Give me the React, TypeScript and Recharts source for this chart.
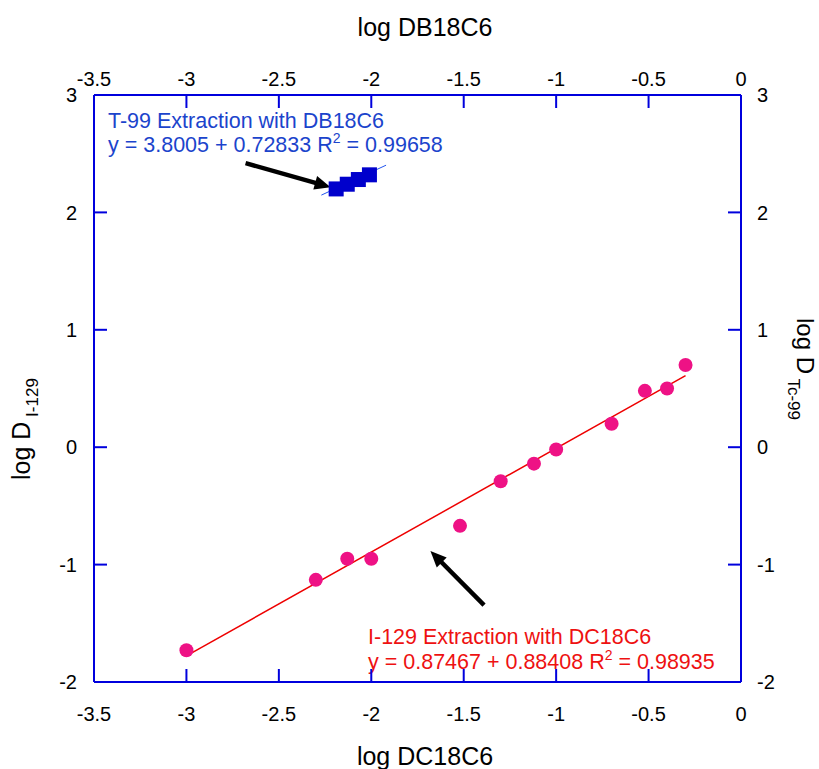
import React from 'react';
import { ScatterChart, Scatter, XAxis, YAxis, ReferenceLine, Customized } from 'recharts';

// I-129 with DC18C6 (bottom / left axes)
const dcLogConc = [-3.0, -2.3, -2.13, -2.0, -1.52, -1.3, -1.12, -1.0, -0.7, -0.52, -0.4, -0.3];
const logDI129 = [-1.73, -1.13, -0.95, -0.95, -0.67, -0.29, -0.14, -0.02, 0.2, 0.48, 0.5, 0.7];

// Tc-99 with DB18C6 (top / right axes)
const dbLogConc = [-2.19, -2.13, -2.07, -2.01];
const logDTc99 = [2.2, 2.24, 2.28, 2.32];

const xTicks = [-3.5, -3, -2.5, -2, -1.5, -1, -0.5, 0];
const yTicks = [-2, -1, 0, 1, 2, 3];

const i129Fit = { a: 0.87467, b: 0.88408, from: -3, to: -0.3 };
const tc99Fit = { a: 3.8005, b: 0.72833, from: -2.27, to: -1.92 };

// arrow annotations, in data units (tail, tip)
const arrowTc = [{ x: -2.68, y: 2.42 }, { x: -2.22, y: 2.215 }];
const arrowI = [{ x: -1.39, y: -1.345 }, { x: -1.68, y: -0.885 }];

const i129Data = dcLogConc.map((x, i) => ({ x, y: logDI129[i] }));
const tc99Data = dbLogConc.map((x, i) => ({ x, y: logDTc99[i] }));

const fitSegment = (f: { a: number; b: number; from: number; to: number }) => [
  { x: f.from, y: f.a + f.b * f.from },
  { x: f.to, y: f.a + f.b * f.to },
];

const FONT = '"Liberation Sans", Arial, sans-serif';
const AXIS_BLUE = '#0000dd';
const PINK = '#ee1285';
const TEXT_BLUE = '#1b44cc';
const TEXT_RED = '#ee1111';

const axisLine = { stroke: AXIS_BLUE, strokeWidth: 2 };
const tickStyle = { fill: '#000', fontSize: 20, fontFamily: FONT };

const Arrow = (props: any) => {
  const { x1, y1, x2, y2 } = props;
  const dx = x2 - x1;
  const dy = y2 - y1;
  const len = Math.sqrt(dx * dx + dy * dy) || 1;
  const ux = dx / len;
  const uy = dy / len;
  const head = 16;
  const half = 7;
  const bx = x2 - ux * head;
  const by = y2 - uy * head;
  return (
    <g>
      <line x1={x1} y1={y1} x2={bx + ux * 2} y2={by + uy * 2} stroke="#000" strokeWidth={4.5} />
      <polygon
        points={`${x2},${y2} ${bx - uy * half},${by + ux * half} ${bx + uy * half},${by - ux * half}`}
        fill="#000"
      />
    </g>
  );
};

const Annotations = () => (
  <g fontFamily={FONT}>
    <text x={425} y={36} fontSize={25} textAnchor="middle" fill="#000">log DB18C6</text>
    <text x={425} y={765} fontSize={25} textAnchor="middle" fill="#000">log DC18C6</text>
    <text transform="translate(30,480) rotate(-90)" fontSize={25} fill="#000">
      log D<tspan fontSize={17} dy={8}> I-129</tspan>
    </text>
    <text transform="translate(797,318) rotate(90)" fontSize={24} fill="#000">
      log D<tspan fontSize={17} dy={9}> Tc-99</tspan>
    </text>
    <g fill={TEXT_BLUE} fontSize={21.5}>
      <text x={108} y={128}>T-99 Extraction with DB18C6</text>
      <text x={108} y={152}>
        y = 3.8005 + 0.72833 R<tspan fontSize={14} dy={-9}>2</tspan>
        <tspan dy={9}> = 0.99658</tspan>
      </text>
    </g>
    <g fill={TEXT_RED} fontSize={21.5}>
      <text x={368} y={644}>I-129 Extraction with DC18C6</text>
      <text x={368} y={669}>
        y = 0.87467 + 0.88408 R<tspan fontSize={14} dy={-9}>2</tspan>
        <tspan dy={9}> = 0.98935</tspan>
      </text>
    </g>
  </g>
);

export default function App() {
  return (
    <div style={{ position: 'absolute', left: 0, top: 0, background: '#fff' }}>
      <ScatterChart width={819} height={769} margin={{ top: 0, right: 0, bottom: 0, left: 0 }}>
        <XAxis
          xAxisId="bottom"
          type="number"
          dataKey="x"
          orientation="bottom"
          domain={[-3.5, 0]}
          ticks={xTicks}
          height={87}
          tickSize={-13}
          tickMargin={38}
          axisLine={axisLine}
          tickLine={axisLine}
          tick={tickStyle}
          allowDataOverflow
        />
        <XAxis
          xAxisId="top"
          type="number"
          dataKey="x"
          orientation="top"
          domain={[-3.5, 0]}
          ticks={xTicks}
          height={95}
          tickSize={-13}
          tickMargin={22}
          axisLine={axisLine}
          tickLine={axisLine}
          tick={tickStyle}
          allowDataOverflow
        />
        <YAxis
          yAxisId="left"
          type="number"
          dataKey="y"
          orientation="left"
          domain={[-2, 3]}
          ticks={yTicks}
          width={94}
          tickSize={-13}
          tickMargin={30}
          axisLine={axisLine}
          tickLine={axisLine}
          tick={tickStyle}
          allowDataOverflow
        />
        <YAxis
          yAxisId="right"
          type="number"
          dataKey="y"
          orientation="right"
          domain={[-2, 3]}
          ticks={yTicks}
          width={78}
          tickSize={-13}
          tickMargin={29}
          axisLine={axisLine}
          tickLine={axisLine}
          tick={tickStyle}
          allowDataOverflow
        />
        <ReferenceLine
          xAxisId="bottom"
          yAxisId="left"
          segment={fitSegment(i129Fit)}
          stroke="#ee0000"
          strokeWidth={1.5}
        />
        <ReferenceLine
          xAxisId="top"
          yAxisId="right"
          segment={fitSegment(tc99Fit)}
          stroke="#2255ee"
          strokeWidth={1}
        />
        <Scatter
          xAxisId="bottom"
          yAxisId="left"
          data={i129Data}
          isAnimationActive={false}
          shape={(p: any) => <circle cx={p.cx} cy={p.cy} r={7} fill={PINK} />}
        />
        <Scatter
          xAxisId="top"
          yAxisId="right"
          data={tc99Data}
          isAnimationActive={false}
          shape={(p: any) => <rect x={p.cx - 7.5} y={p.cy - 7.5} width={15} height={15} fill="#0000cc" />}
        />
        <ReferenceLine xAxisId="top" yAxisId="right" segment={arrowTc} shape={Arrow} />
        <ReferenceLine xAxisId="bottom" yAxisId="left" segment={arrowI} shape={Arrow} />
        <Customized component={<Annotations />} />
      </ScatterChart>
    </div>
  );
}
